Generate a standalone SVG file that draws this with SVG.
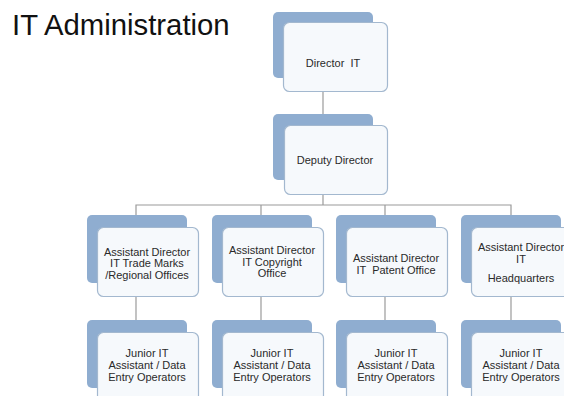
<svg xmlns="http://www.w3.org/2000/svg" width="564" height="396" viewBox="0 0 564 396">
  <style>
    .back { fill: #8fadd0; }
    .front { fill: #f6f9fc; stroke: #a3b8cf; stroke-width: 1.2; }
    .lbl { font-family: "Liberation Sans", Arial, sans-serif; font-size: 11px; fill: #2a2a2a; text-anchor: middle; }
    .title { font-family: "Liberation Sans", Arial, sans-serif; font-size: 29.3px; fill: #111; }
    .conn { stroke: #9a9a9a; stroke-width: 1.2; fill: none; }
  </style>
  <rect width="564" height="396" fill="#ffffff"/>

  <text class="title" x="12" y="34.5">IT Administration</text>

  <g id="connectors">
    <path class="conn" d="M323 92 V114"/>
    <path class="conn" d="M323 195 V205"/>
    <path class="conn" d="M136 215 V205 H511 V215"/>
    <path class="conn" d="M261 205 V215"/>
    <path class="conn" d="M385 205 V215"/>
    <path class="conn" d="M136 297 V320"/>
    <path class="conn" d="M261 297 V320"/>
    <path class="conn" d="M385 297 V320"/>
    <path class="conn" d="M511 297 V320"/>
  </g>

  <g id="director">
    <rect class="back" x="273" y="12" width="100" height="66" rx="5"/>
    <rect class="front" x="283.5" y="22.5" width="104" height="69" rx="6"/>
    <text class="lbl" x="333" y="67" xml:space="preserve">Director  IT</text>
  </g>

  <g id="deputy">
    <rect class="back" x="273" y="114" width="100" height="66" rx="5"/>
    <rect class="front" x="284.5" y="125.5" width="103" height="69" rx="6"/>
    <text class="lbl" x="335" y="164">Deputy Director</text>
  </g>

  <g id="ad-trademarks">
    <rect class="back" x="87" y="215" width="100" height="68" rx="5"/>
    <rect class="front" x="97.5" y="227.5" width="101" height="69" rx="6"/>
    <text class="lbl" x="147" y="255.5">Assistant Director</text>
    <text class="lbl" x="147" y="267.2">IT Trade Marks</text>
    <text class="lbl" x="147" y="279">/Regional Offices</text>
  </g>

  <g id="ad-copyright">
    <rect class="back" x="212" y="215" width="100" height="68" rx="5"/>
    <rect class="front" x="222.5" y="227.5" width="101" height="69" rx="6"/>
    <text class="lbl" x="272" y="254">Assistant Director</text>
    <text class="lbl" x="272" y="265.5">IT Copyright</text>
    <text class="lbl" x="272" y="277">Office</text>
  </g>

  <g id="ad-patent">
    <rect class="back" x="336" y="215" width="100" height="68" rx="5"/>
    <rect class="front" x="346.5" y="227.5" width="101" height="69" rx="6"/>
    <text class="lbl" x="396" y="262">Assistant Director</text>
    <text class="lbl" x="396" y="273.5" xml:space="preserve">IT  Patent Office</text>
  </g>

  <g id="ad-headquarters">
    <rect class="back" x="461" y="215" width="100" height="68" rx="5"/>
    <rect class="front" x="471.5" y="227.5" width="101" height="69" rx="6"/>
    <text class="lbl" x="521" y="251">Assistant Director</text>
    <text class="lbl" x="521" y="262.5">IT</text>
    <text class="lbl" x="521" y="282">Headquarters</text>
  </g>

  <g id="junior-1">
    <rect class="back" x="87" y="320" width="100" height="68" rx="5"/>
    <rect class="front" x="97.5" y="332.5" width="101" height="69" rx="6"/>
    <text class="lbl" x="147" y="357">Junior IT</text>
    <text class="lbl" x="147" y="369">Assistant / Data</text>
    <text class="lbl" x="147" y="381">Entry Operators</text>
  </g>

  <g id="junior-2">
    <rect class="back" x="212" y="320" width="100" height="68" rx="5"/>
    <rect class="front" x="222.5" y="332.5" width="101" height="69" rx="6"/>
    <text class="lbl" x="272" y="357">Junior IT</text>
    <text class="lbl" x="272" y="369">Assistant / Data</text>
    <text class="lbl" x="272" y="381">Entry Operators</text>
  </g>

  <g id="junior-3">
    <rect class="back" x="336" y="320" width="100" height="68" rx="5"/>
    <rect class="front" x="346.5" y="332.5" width="101" height="69" rx="6"/>
    <text class="lbl" x="396" y="357">Junior IT</text>
    <text class="lbl" x="396" y="369">Assistant / Data</text>
    <text class="lbl" x="396" y="381">Entry Operators</text>
  </g>

  <g id="junior-4">
    <rect class="back" x="461" y="320" width="100" height="68" rx="5"/>
    <rect class="front" x="471.5" y="332.5" width="101" height="69" rx="6"/>
    <text class="lbl" x="521" y="357">Junior IT</text>
    <text class="lbl" x="521" y="369">Assistant / Data</text>
    <text class="lbl" x="521" y="381">Entry Operators</text>
  </g>
</svg>
